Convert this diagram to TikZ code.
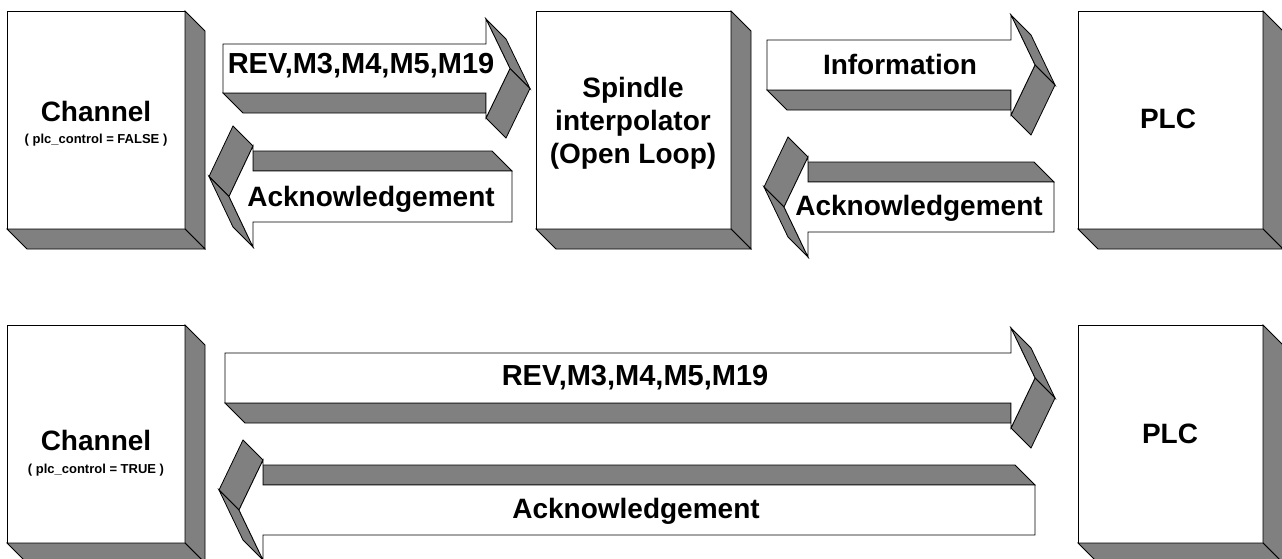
\documentclass[tikz,border=0pt]{standalone}
\usepackage{fontspec}
\setmainfont{Liberation Sans}
\definecolor{shadegray}{HTML}{808080}
\tikzset{
  face/.style={fill=white,draw=black,line width=0.8pt,line join=miter},
  shade/.style={fill=shadegray,draw=black,line width=0.8pt,line join=miter},
  big/.style={font=\fontsize{28}{32}\selectfont\bfseries,inner sep=0pt,anchor=base},
  bigger/.style={font=\fontsize{29}{33}\selectfont\bfseries,inner sep=0pt,anchor=base},
  small/.style={font=\fontsize{13}{15}\selectfont\bfseries,inner sep=0pt,anchor=base}
}
% 3D box: name, x, y (top-left of front), width, height
\newcommand{\tdbox}[5]{%
  \node[face,anchor=north west,outer sep=0pt,inner sep=0pt,
        minimum width=#4pt,minimum height=#5pt] (#1) at (#2,#3) {};
  \draw[shade] (#1.north east) -- ++(20,20) -- ($(#1.south east)+(20,20)$) -- (#1.south east) -- cycle;
  \draw[shade] (#1.south west) -- (#1.south east) -- ++(20,20) -- ($(#1.south west)+(20,20)$) -- cycle;
}
% right 3D arrow: left x, head x, body top, body bottom
\newcommand{\rarr}[4]{%
  \pgfmathsetmacro\arrHT{#3-25}%
  \pgfmathsetmacro\arrHB{#4+25}%
  \pgfmathsetmacro\arrTY{(#3+#4)/2}%
  \pgfmathsetmacro\arrTX{#2+24}%
  \draw[shade] (#2,\arrHT) -- (#2+20,\arrHT+20) -- (\arrTX+20,\arrTY+20) -- (\arrTX,\arrTY) -- cycle;
  \draw[shade] (\arrTX,\arrTY) -- (\arrTX+20,\arrTY+20) -- (#2+20,\arrHB+20) -- (#2,\arrHB) -- cycle;
  \draw[shade] (#1,#4) -- (#2,#4) -- (#2,#4+20) -- (#1+20,#4+20) -- cycle;
  \draw[face] (#1,#3) -- (#2,#3) -- (#2,\arrHT) -- (\arrTX,\arrTY) -- (#2,\arrHB) -- (#2,#4) -- (#1,#4) -- cycle;
}
% left 3D arrow: head x, right x, body top, body bottom
\newcommand{\larr}[4]{%
  \pgfmathsetmacro\arrHT{#3-25}%
  \pgfmathsetmacro\arrHB{#4+25}%
  \pgfmathsetmacro\arrTY{(#3+#4)/2}%
  \pgfmathsetmacro\arrTX{#1-24}%
  \draw[shade] (#1,#3-20) -- (#2-20,#3-20) -- (#2,#3) -- (#1,#3) -- cycle;
  \draw[shade] (#1,\arrHT) -- (#1-20,\arrHT-20) -- (\arrTX-20,\arrTY-20) -- (\arrTX,\arrTY) -- cycle;
  \draw[shade] (\arrTX,\arrTY) -- (\arrTX-20,\arrTY-20) -- (#1-20,\arrHB-20) -- (#1,\arrHB) -- cycle;
  \draw[face] (#2,#3) -- (#1,#3) -- (#1,\arrHT) -- (\arrTX,\arrTY) -- (#1,\arrHB) -- (#1,#4) -- (#2,#4) -- cycle;
}
\usetikzlibrary{calc}
\begin{document}
\begin{tikzpicture}[x=1pt,y=-1pt]
\useasboundingbox (0,0) rectangle (1282,558);
\clip (0,0) rectangle (1282,558);
\fill[white] (0,0) rectangle (1282,558);

% top row boxes
\tdbox{ch1}{7}{11}{178}{218}
\tdbox{sp}{536}{11}{195}{218}
\tdbox{plc1}{1078}{11}{185}{218}
% bottom row boxes
\tdbox{ch2}{7}{325}{178}{218}
\tdbox{plc2}{1078}{325}{185}{218}

% arrows top row
\rarr{223}{486}{44}{93}
\larr{253}{512}{171}{222}
\rarr{767}{1011}{40}{90}
\larr{808}{1054}{182}{232}
% arrows bottom row
\rarr{225}{1011}{353}{403}
\larr{263}{1035}{485}{535}

% texts
\node[big] (t1) at (96,121) {Channel};
\node[small] (t1s) at (96,143) {( plc\_control = FALSE )};
\node[big] (t2) at (633,97) {Spindle};
\node[big] (t3) at (633,130) {interpolator};
\node[big] (t4) at (633,163) {(Open Loop)};
\node[big] (t5) at (1168,128) {PLC};
\node[bigger] (t6) at (361,73) {REV,M3,M4,M5,M19};
\node[big] (t7) at (371,206) {Acknowledgement};
\node[big] (t8) at (900,74) {Information};
\node[big] (t9) at (919,215) {Acknowledgement};
\node[big] (t10) at (96,450) {Channel};
\node[small] (t10s) at (96,473) {( plc\_control = TRUE )};
\node[big] (t11) at (1170,443) {PLC};
\node[bigger] (t12) at (635,385) {REV,M3,M4,M5,M19};
\node[big] (t13) at (636,518) {Acknowledgement};
\end{tikzpicture}
\end{document}
